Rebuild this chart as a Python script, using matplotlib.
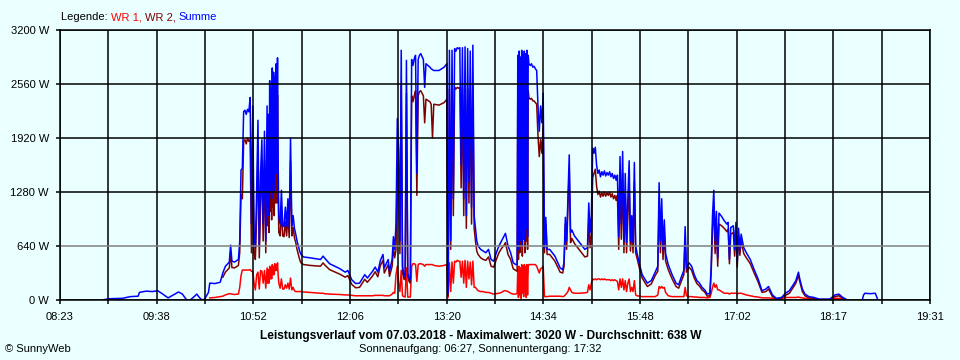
import numpy as np
import matplotlib
matplotlib.use("Agg")
import matplotlib.pyplot as plt

# ---------------- data (time of day, watts) ----------------
times = [
    # early, only Summe
    "08:57", "09:01", "09:11", "09:17", "09:23", "09:24", "09:29", "09:34", "09:38", "09:41", "09:46",
    "09:50", "09:54", "09:57", "10:00", "10:03", "10:06", "10:08", "10:10", "10:12", "10:14", "10:17",
    # 10:18 - 10:40
    "10:18", "10:22", "10:26", "10:28", "10:30", "10:33", "10:34", "10:35", "10:37", "10:39", "10:40",
    # 10:41 - 11:01
    "10:41", "10:42", "10:43", "10:44", "10:45", "10:46", "10:47", "10:48", "10:49", "10:50",
    "10:51", "10:52", "10:53", "10:54", "10:55", "10:56", "10:57", "10:58", "10:59", "11:00",
    "11:01",
    # 11:02 - 11:11 (dense)
    "11:02:00", "11:02:30", "11:03:00", "11:03:30", "11:04:00", "11:04:30", "11:05:00", "11:05:30",
    "11:06:00", "11:06:30", "11:07:00", "11:07:30", "11:08:00", "11:08:30", "11:09:00", "11:09:30",
    "11:10:00", "11:10:30", "11:11:00",
    # 11:12 - 11:30
    "11:12", "11:13", "11:14", "11:15", "11:16", "11:17", "11:18", "11:19", "11:20",
    "11:21", "11:22", "11:23", "11:24", "11:25", "11:26", "11:27", "11:28", "11:30",
    # 11:35 - 12:40
    "11:35", "11:43", "11:45", "11:46", "11:50", "11:58", "12:02", "12:04", "12:07", "12:10", "12:13", "12:17",
    "12:19", "12:23", "12:25", "12:27", "12:29", "12:31", "12:32", "12:35", "12:36", "12:38", "12:39", "12:40",
    # 12:41 - 13:20
    "12:41", "12:42", "12:43", "12:44", "12:45", "12:46", "12:47", "12:48", "12:49", "12:50",
    "12:51", "12:52", "12:53", "12:54", "12:55", "12:56", "12:57", "12:58", "12:59",
    "13:00", "13:02", "13:03", "13:04", "13:07", "13:08", "13:09", "13:10", "13:14", "13:18", "13:20",
    # 13:21 - 14:13
    "13:21", "13:22", "13:23", "13:24", "13:25", "13:26", "13:27", "13:28", "13:29", "13:30", "13:31", "13:32",
    "13:33", "13:34", "13:35", "13:36", "13:37", "13:38", "13:39", "13:40", "13:41", "13:42", "13:43", "13:44",
    "13:46", "13:48", "13:50", "13:52", "13:54", "13:56", "13:58", "14:00", "14:02", "14:04", "14:05", "14:07",
    "14:09", "14:11", "14:13",
    # 14:14 - 14:23 (dense)
    "14:14:00", "14:14:30", "14:15:00", "14:15:30", "14:16:00", "14:16:30", "14:17:00", "14:17:30",
    "14:18:00", "14:18:30", "14:19:00", "14:19:30", "14:20:00", "14:20:30", "14:21:00", "14:21:30",
    "14:22:00", "14:22:30", "14:23:00",
    # 14:24 - 14:37
    "14:24", "14:25", "14:26", "14:27", "14:28", "14:29", "14:30",
    "14:31", "14:32", "14:33", "14:34", "14:35", "14:36", "14:37",
    # 14:39 - 15:15
    "14:39", "14:43", "14:47", "14:49", "14:50", "14:51", "14:52", "14:53", "14:54", "14:55", "14:56",
    "14:58", "15:02", "15:06", "15:08", "15:09", "15:10", "15:11", "15:12", "15:13", "15:14", "15:15",
    # 15:16 - 15:31
    "15:16", "15:17", "15:18", "15:19", "15:20", "15:21", "15:22", "15:23",
    "15:24", "15:25", "15:26", "15:27", "15:28", "15:29", "15:30", "15:31",
    # 15:32 - 15:52
    "15:32", "15:33", "15:34", "15:35", "15:36", "15:37", "15:38", "15:39", "15:40", "15:41",
    "15:42", "15:43", "15:44", "15:45", "15:46", "15:48", "15:50", "15:52",
    # 15:54 - 18:27
    "15:54", "15:57", "16:00", "16:02", "16:03", "16:04", "16:05", "16:06", "16:07", "16:08",
    "16:10", "16:13", "16:16", "16:18", "16:20", "16:22", "16:23", "16:24", "16:26", "16:28",
    "16:30", "16:32", "16:34", "16:36", "16:38", "16:40", "16:42", "16:43", "16:44", "16:45",
    "16:46", "16:47", "16:48", "16:49", "16:51", "16:53", "16:55", "16:56", "16:57", "16:58",
    "17:00", "17:01", "17:02", "17:03", "17:04", "17:05", "17:06", "17:08", "17:10", "17:13",
    "17:16", "17:19", "17:22", "17:25", "17:27", "17:30", "17:33", "17:37", "17:40", "17:43",
    "17:46", "17:48", "17:50", "17:51", "17:53", "17:55", "17:58", "18:02", "18:06", "18:14",
    "18:18", "18:21", "18:24", "18:27",
    # late bump, only Summe
    "18:28", "18:39", "18:40", "18:41", "18:45", "18:49", "18:50", "18:51",
]

summe = [
    5, 15, 20, 40, 45, 90, 105, 100, 110, 80, 25,
    60, 95, 70, 5, 0, 40, 70, 30, 0, 10, 90,
    200, 195, 210, 320, 400, 450, 650, 460, 450, 470, 480,
    700, 1540, 1560, 2230, 2250, 2200, 2260, 2230, 2400, 900,
    2300, 760, 620, 1300, 2130, 640, 1500, 1900, 900, 2000,
    700,
    2300, 1100, 2200, 1000, 2600, 1300, 2500, 1200,
    2750, 1400, 2700, 1300, 2650, 1500, 2800, 1500,
    2870, 1600, 1000,
    900, 1300, 880, 870, 1100, 880, 1200, 860, 1920,
    880, 1000, 850, 780, 700, 640, 580, 540, 510,
    500, 480, 520, 500, 430, 370, 330, 350, 240, 195, 200, 300,
    260, 340, 390, 330, 470, 540, 380, 480, 340, 480, 750, 600,
    900, 2150, 1780, 700, 2960, 400, 300, 280, 2840, 320,
    260, 240, 2850, 2780, 2860, 2900, 1500, 2850, 2900,
    2920, 2850, 2520, 2800, 2760, 2740, 2730, 2720, 2720, 2760, 2800,
    80, 2960, 700, 2960, 1200, 2980, 2950, 2990, 2980, 2990, 1600, 2990,
    1200, 3000, 1000, 2980, 1400, 2950, 1100, 3020, 1000, 850, 700, 640,
    600, 580, 560, 600, 480, 460, 560, 640, 700, 760, 790, 640,
    560, 440, 420,
    420, 2900, 600, 2950, 700, 2880, 800, 2960,
    650, 2900, 900, 2950, 700, 2920, 850, 2960,
    750, 2900, 2800,
    2780, 2800, 2760, 2770, 2740, 2720, 2300,
    2000, 2300, 2100, 2450, 620, 980, 600,
    600, 520, 380, 360, 450, 980, 700, 1200, 1720, 800, 830,
    760, 680, 600, 620, 1150, 800, 1000, 1800, 1740, 1810, 1600,
    1500, 1540, 1460, 1520, 1480, 1530, 1470, 1510,
    1480, 1520, 1460, 1500, 1440, 1480, 1420, 1480,
    750, 1700, 900, 1760, 700, 1500, 680, 1200, 1650, 700,
    1000, 680, 1630, 640, 560, 420, 300, 250,
    200, 230, 330, 400, 1390, 700, 1200, 600, 950, 550,
    420, 300, 200, 180, 270, 350, 870, 380, 440, 400,
    300, 230, 200, 150, 120, 70, 80, 400, 1000, 1300,
    700, 1050, 500, 1030, 990, 940, 900, 920, 480, 860,
    880, 600, 920, 450, 850, 600, 780, 620, 560, 480,
    360, 250, 110, 130, 160, 60, 20, 30, 80, 110,
    180, 230, 330, 250, 130, 70, 40, 30, 10, 10,
    60, 70, 30, 5,
    None, 0, 60, 80, 75, 80, 40, 0,
]

wr2 = [
    None, None, None, None, None, None, None, None, None, None, None,
    None, None, None, None, None, None, None, None, None, None, None,
    None, None, None, 270, 330, 380, 570, 385, 380, 400, 410,
    560, 1250, 1200, 1880, 1900, 1850, 1920, 1880, 1900, 560,
    1900, 560, 480, 1000, 1800, 500, 1150, 1550, 700, 1650,
    560,
    1900, 880, 1850, 800, 2200, 1050, 2120, 950,
    2350, 1100, 2300, 1000, 2250, 1150, 2380, 1150,
    2430, 1300, 800,
    760, 1050, 760, 750, 930, 760, 1000, 740, 1650,
    760, 860, 740, 680, 600, 540, 480, 440, 420,
    410, 400, 440, 420, 360, 305, 270, 290, 185, 145, 150, 245,
    210, 285, 335, 275, 410, 470, 320, 420, 280, 400, 620, 500,
    600, 1600, 1500, 550, 2550, 330, 250, 240, 2450, 280,
    220, 200, 2420, 2350, 2420, 2480, 1240, 2420, 2470,
    2480, 2420, 2100, 2380, 2350, 2320, 1920, 2320, 2310, 2340, 2380,
    50, 2500, 600, 2500, 1000, 2520, 2500, 2520, 2510, 2520, 1330, 2520,
    1000, 2520, 850, 2500, 1150, 2480, 900, 2550, 850, 700, 580, 540,
    500, 480, 470, 510, 400, 390, 480, 560, 610, 650, 680, 540,
    480, 370, 350,
    340, 2500, 480, 2520, 560, 2470, 640, 2540,
    520, 2480, 720, 2520, 560, 2500, 700, 2540,
    600, 2480, 2400,
    2380, 2390, 2360, 2360, 2340, 2320, 1950,
    1700, 1900, 1740, 2050, 560, 900, 540,
    540, 460, 330, 320, 400, 900, 600, 1100, 1550, 680, 730,
    670, 590, 510, 520, 950, 620, 780, 1450, 1500, 1550, 1350,
    1250, 1290, 1220, 1270, 1230, 1280, 1230, 1270,
    1240, 1280, 1220, 1260, 1200, 1240, 1180, 1240,
    600, 1450, 720, 1500, 560, 1250, 560, 980, 1400, 580,
    850, 560, 1400, 560, 500, 370, 260, 210,
    160, 190, 290, 340, 1200, 560, 1020, 480, 800, 460,
    360, 250, 160, 140, 220, 300, 720, 330, 390, 350,
    260, 195, 165, 120, 95, 45, 50, 330, 850, 1080,
    550, 870, 400, 900, 880, 850, 810, 840, 430, 780,
    800, 520, 830, 390, 770, 530, 700, 550, 500, 430,
    320, 215, 90, 100, 130, 40, 10, 15, 55, 80,
    150, 200, 290, 220, 100, 50, 25, 15, 5, 5,
    40, 50, 20, 2,
    None, None, None, None, None, None, None, None,
]

wr1 = [
    None, None, None, None, None, None, None, None, None, None, None,
    None, None, None, None, None, None, None, None, None, None, None,
    25, 30, 40, 45, 60, 75, 75, 70, 65, 70, 70,
    150, 290, 355, 355, 355, 355, 355, 355, 360, 340,
    340, 200, 120, 300, 330, 130, 350, 340, 200, 350,
    140,
    380, 200, 360, 200, 400, 250, 380, 250,
    420, 300, 400, 300, 430, 350, 420, 350,
    440, 300, 200,
    140, 250, 130, 130, 180, 140, 200, 130, 260,
    120, 150, 110, 100, 100, 100, 100, 100, 95,
    90, 80, 80, 75, 70, 65, 60, 60, 55, 50, 50, 50,
    50, 50, 55, 55, 55, 55, 50, 50, 50, 70, 90, 80,
    300, 400, 200, 100, 350, 50, 40, 35, 380, 35,
    35, 35, 400, 430, 430, 420, 220, 420, 430,
    430, 420, 400, 420, 420, 420, 420, 410, 400, 410, 420,
    30, 440, 100, 450, 200, 460, 450, 470, 460, 460, 270, 460,
    200, 470, 150, 460, 250, 450, 180, 460, 150, 150, 130, 110,
    100, 100, 90, 90, 80, 70, 75, 80, 90, 110, 110, 100,
    80, 70, 70,
    80, 350, 30, 400, 60, 380, 20, 420,
    80, 400, 40, 420, 100, 400, 30, 420,
    60, 400, 420,
    420, 420, 420, 420, 420, 400, 360,
    320, 370, 380, 400, 40, 40, 40,
    45, 45, 45, 40, 45, 60, 80, 100, 150, 120, 90,
    80, 80, 85, 90, 180, 120, 200, 250, 240, 250, 240,
    250, 250, 240, 250, 240, 250, 240, 240,
    240, 240, 230, 240, 230, 240, 230, 220,
    120, 250, 150, 250, 120, 230, 100, 200, 250, 100,
    150, 100, 230, 60, 50, 45, 40, 40,
    40, 40, 40, 60, 160, 140, 160, 140, 150, 90,
    50, 40, 40, 40, 40, 40, 150, 50, 40, 40,
    35, 35, 30, 30, 30, 25, 30, 80, 150, 200,
    150, 180, 120, 120, 100, 80, 80, 80, 70, 80,
    80, 80, 80, 70, 80, 80, 80, 70, 60, 50,
    40, 35, 25, 25, 25, 20, 15, 20, 30, 30,
    30, 30, 35, 30, 25, 20, 15, 10, 5, 5,
    20, 20, 10, 2,
    None, None, None, None, None, None, None, None,
]

x_tick_labels = ["08:23", "09:38", "10:52", "12:06", "13:20", "14:34", "15:48", "17:02", "18:17", "19:31"]
y_ticks = [0, 640, 1280, 1920, 2560, 3200]
y_tick_labels = ["0 W", "640 W", "1280 W", "1920 W", "2560 W", "3200 W"]

legend_parts = [("Legende: ", "black"), ("WR 1, ", "#FF0000"), ("WR 2, ", "#800000"), ("Summe", "#0000FF")]
title = "Leistungsverlauf vom 07.03.2018 - Maximalwert: 3020 W - Durchschnitt: 638 W"
subtitle = "Sonnenaufgang: 06:27, Sonnenuntergang: 17:32"
copyright_text = "\u00a9 SunnyWeb"

# ---------------- helpers ----------------
def to_min(s):
    parts = [int(p) for p in s.split(":")]
    val = parts[0] * 60 + parts[1]
    if len(parts) > 2:
        val += parts[2] / 60.0
    return val

t = np.array([to_min(s) for s in times], dtype=float)
s_arr = np.array(summe, dtype=float)
w2_arr = np.array(wr2, dtype=float)
w1_arr = np.array(wr1, dtype=float)

BG = "#EAFFFF"
FONT = "Liberation Sans"
plt.rcParams["font.family"] = [FONT, "DejaVu Sans"]

fig = plt.figure(figsize=(9.6, 3.6), dpi=100, facecolor=BG)
ax = fig.add_axes([60 / 960, 60 / 360, 870 / 960, 270 / 360], facecolor=BG)

LW = 1.1
ax.plot(t, w1_arr, color="#FF0000", lw=LW, zorder=2)
ax.plot(t, w2_arr, color="#800000", lw=LW, zorder=2.1)
ax.plot(t, s_arr, color="#0000FF", lw=LW, zorder=2.2)

x0, x1 = to_min(x_tick_labels[0]), to_min(x_tick_labels[-1])
ax.set_xlim(x0, x1)
ax.set_ylim(0, 3200)

grid_x = np.linspace(x0, x1, 2 * (len(x_tick_labels) - 1) + 1)
for gx in grid_x:
    ax.axvline(gx, color="black", lw=1.1, zorder=3)
for gy in y_ticks:
    ax.axhline(gy, color=("#808080" if gy == 640 else "black"), lw=1.1, zorder=3)

labels = []
for i in range(len(grid_x)):
    labels.append(x_tick_labels[i // 2] if i % 2 == 0 else "")
ax.set_xticks(grid_x)
ax.set_xticklabels(labels)
ax.set_yticks(y_ticks)
ax.set_yticklabels(y_tick_labels)
ax.tick_params(axis="x", length=3, width=1.1, pad=6, labelsize=8, colors="black")
ax.tick_params(axis="y", length=3, width=1.1, pad=5, labelsize=8, colors="black")
for sp in ax.spines.values():
    sp.set_color("black")
    sp.set_linewidth(1.1)
    sp.set_zorder(3.5)

# legend line at the top (multi-coloured)
renderer = fig.canvas.get_renderer()
def text_width(s):
    tt = fig.text(0, 0, s + "|", fontsize=8)
    ref = fig.text(0, 0, "|", fontsize=8)
    w = tt.get_window_extent(renderer).width - ref.get_window_extent(renderer).width
    tt.remove(); ref.remove()
    return w

lx = 61
prefix = ""
for part, col in legend_parts:
    fig.text((lx + text_width(prefix)) / 960, 1 - 17 / 360, part, color=col, fontsize=8,
             va="center", ha="left")
    prefix += part

fig.text(481 / 960, 1 - 336 / 360, title, fontsize=8.6, fontweight="bold", ha="center", va="center")
fig.text(480 / 960, 1 - 349 / 360, subtitle, fontsize=8, ha="center", va="center")
fig.text(5 / 960, 1 - 349 / 360, copyright_text, fontsize=8, ha="left", va="center")

fig.savefig("out.png", dpi=100, facecolor=BG)
